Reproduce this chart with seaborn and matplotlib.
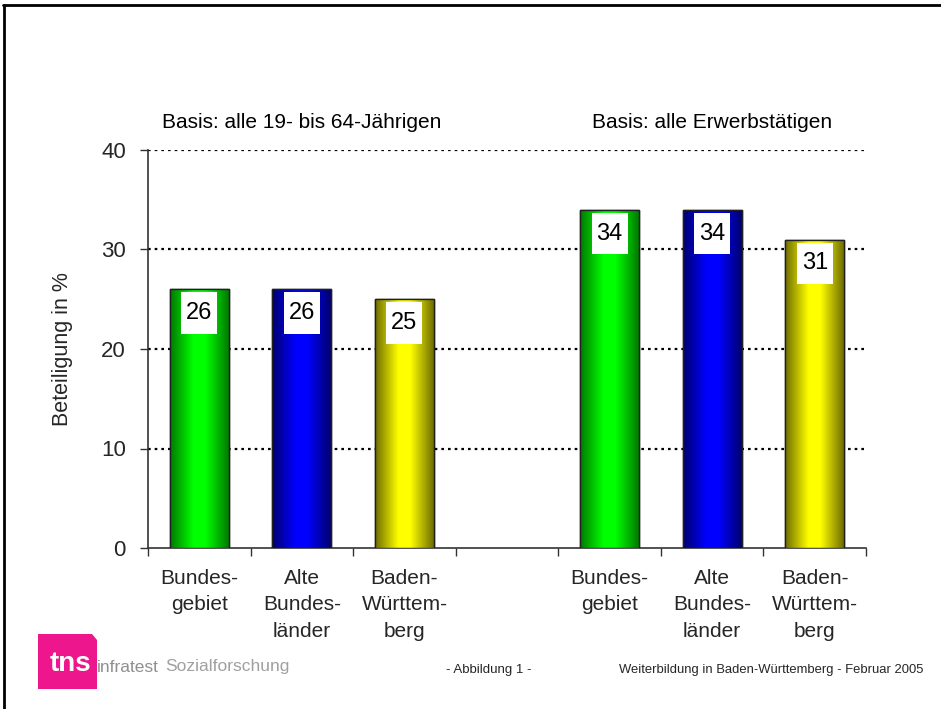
import matplotlib
matplotlib.use("Agg")
import matplotlib.pyplot as plt
import seaborn as sns
import numpy as np
import pandas as pd
from matplotlib.colors import LinearSegmentedColormap
from matplotlib.patches import Rectangle, Polygon
from matplotlib.lines import Line2D

# data
slots = [0, 1, 2, 4, 5, 6]
values = [26, 26, 25, 34, 34, 31]
groups = ["Bund", "Alt", "BW", "Bund", "Alt", "BW"]
tick_labels = ["Bundes-\ngebiet", "Alte\nBundes-\nländer", "Baden-\nWürttem-\nberg", "",
               "Bundes-\ngebiet", "Alte\nBundes-\nländer", "Baden-\nWürttem-\nberg"]
basis_labels = ["Basis: alle 19- bis 64-Jährigen", "Basis: alle Erwerbstätigen"]
basis_pos = [1, 5]

bright = {"Bund": "#00ff00", "Alt": "#0000ff", "BW": "#ffff00"}
dark = {"Bund": "#007a00", "Alt": "#00006e", "BW": "#6e6e00"}

df = pd.DataFrame({"slot": slots, "value": values, "group": groups})
group_of_slot = dict(zip(slots, groups))

sns.set_theme(style="white")
plt.rcParams["font.family"] = ["Liberation Sans", "DejaVu Sans"]

W, H = 941, 709
fig = plt.figure(figsize=(W / 100, H / 100), dpi=100)
ax = fig.add_axes([148 / W, 1 - 548 / H, 718 / W, 398 / H])

sns.barplot(data=df, x="slot", y="value", hue="group", palette=bright,
            native_scale=True, width=0.575, dodge=False, legend=False,
            edgecolor="#202020", linewidth=1, ax=ax, zorder=3)

bars = [p for p in ax.patches if p.get_height() > 0]

# horizontal gradient inside every bar
for patch in bars:
    x0, y0 = patch.get_x(), patch.get_y()
    w, h = patch.get_width(), patch.get_height()
    g = group_of_slot[int(round(x0 + w / 2))]
    cmap = LinearSegmentedColormap.from_list(
        g, [(0, dark[g]), (0.4, bright[g]), (0.6, bright[g]), (1, dark[g])])
    grad = np.linspace(0, 1, 200).reshape(1, -1)
    im = ax.imshow(grad, cmap=cmap, extent=[x0, x0 + w, y0, y0 + h],
                   aspect="auto", zorder=3.5, origin="lower")
    im.set_clip_path(patch)
    ax.add_patch(Rectangle((x0, y0), w, h, fill=False, edgecolor="#202020",
                           linewidth=1, zorder=4))
    # value label in a white box
    bw, bh = 0.35, 4.2
    ax.add_patch(Rectangle((x0 + w / 2 - bw / 2, h - 0.3 - bh), bw, bh,
                           facecolor="white", edgecolor="none", zorder=5))
    ax.text(x0 + w / 2, h - 0.3 - bh / 2, f"{h:.0f}", ha="center", va="center",
            fontsize=17, color="black", zorder=6)

ax.set_xlim(-0.5, 6.5)
ax.set_ylim(0, 40)

# grid
for yv in [10, 20, 30, 40]:
    ax.axhline(yv, color="black", linestyle=(0, (1.2, 1.8)), linewidth=1.6, zorder=1)

# axes styling
for side in ["top", "right"]:
    ax.spines[side].set_visible(False)
for side in ["left", "bottom"]:
    ax.spines[side].set_color("#333333")
    ax.spines[side].set_linewidth(1.2)

ax.set_yticks([0, 10, 20, 30, 40])
ax.tick_params(axis="y", which="major", direction="out", length=6, width=1,
               color="#333333", labelsize=16, pad=10, left=True)
ax.set_xticks(np.arange(-0.5, 7, 1))
ax.set_xticklabels([])
ax.set_xticks(range(7), minor=True)
ax.set_xticklabels(tick_labels, minor=True, fontsize=15, linespacing=1.5)
ax.tick_params(axis="x", which="major", direction="out", length=6, width=1,
               color="#333333", bottom=True)
ax.tick_params(axis="x", which="minor", length=0, pad=15)

ax.set_xlabel("")
ax.set_ylabel("Beteiligung in %", fontsize=15.5, labelpad=20)

for lab, pos in zip(basis_labels, basis_pos):
    ax.text(pos, 42.8, lab, ha="center", va="center", fontsize=15,
            color="black")

# frame
fig.add_artist(Line2D([3 / W, 1], [1 - 5 / H, 1 - 5 / H], color="black",
                      linewidth=2, transform=fig.transFigure))
fig.add_artist(Line2D([4 / W, 4 / W], [0, 1 - 5 / H], color="black",
                      linewidth=2, transform=fig.transFigure))

# footer
fig.text(446 / W, 1 - 670 / H, "- Abbildung 1 -", fontsize=9.5, va="center")
fig.text(619 / W, 1 - 670 / H, "Weiterbildung in Baden-Württemberg - Februar 2005",
         fontsize=9.4, va="center")

# logo
logo = Polygon([(38 / W, 1 - 634 / H), (92 / W, 1 - 634 / H), (97 / W, 1 - 640 / H),
                (97 / W, 1 - 689 / H), (38 / W, 1 - 689 / H)],
               closed=True, facecolor="#ee168c", edgecolor="none",
               transform=fig.transFigure)
fig.add_artist(logo)
fig.text(50 / W, 1 - 664 / H, "tns", fontsize=20, fontweight="bold", color="white",
         va="center")
fig.text(97 / W, 1 - 667 / H, "infratest", fontsize=12.5, color="#909090",
         va="center")
fig.text(165 / W, 1 - 667 / H, "Sozialforschung", fontsize=12.5, color="#a0a0a0",
         va="center")

fig.savefig("out.png", dpi=100)
plt.close(fig)
